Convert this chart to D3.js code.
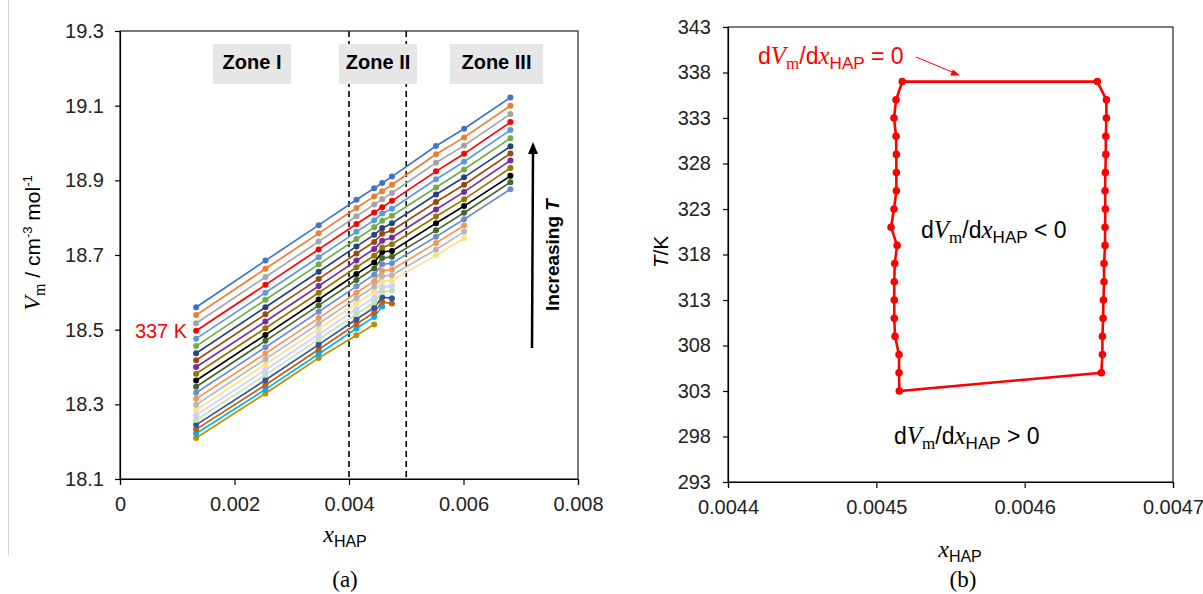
<!DOCTYPE html>
<html>
<head>
<meta charset="utf-8">
<script src="https://cdn.jsdelivr.net/npm/d3@7"></script>
<style>
body { margin: 0; background: #fff; }
svg { display: block; }
</style>
</head>
<body>
<script>
"use strict";

// ---- panel (a): molar volume vs x_HAP, one series per temperature ----
const xHap = [0.00133, 0.00254, 0.00347, 0.00413, 0.00444, 0.00458, 0.00475, 0.00552, 0.00601, 0.00682];
const temps = [343, 341, 339, 337, 335, 333, 331, 329, 327, 325, 323, 321, 319, 317, 315, 313, 311, 309, 307, 305, 303, 301];
const vm = [
  [18.560, 18.685, 18.780, 18.848, 18.879, 18.893, 18.910, 18.992, 19.038, 19.122],
  [18.539, 18.663, 18.758, 18.826, 18.857, 18.871, 18.888, 18.970, 19.015, 19.100],
  [18.517, 18.641, 18.736, 18.804, 18.835, 18.849, 18.866, 18.947, 18.993, 19.078],
  [18.497, 18.620, 18.715, 18.783, 18.814, 18.828, 18.845, 18.924, 18.971, 19.056],
  [18.476, 18.599, 18.694, 18.762, 18.793, 18.811, 18.824, 18.903, 18.950, 19.035],
  [18.456, 18.580, 18.675, 18.743, 18.774, 18.792, 18.805, 18.881, 18.929, 19.013],
  [18.437, 18.560, 18.655, 18.723, 18.754, 18.772, 18.785, 18.862, 18.908, 18.991],
  [18.418, 18.541, 18.636, 18.704, 18.735, 18.757, 18.766, 18.842, 18.888, 18.972],
  [18.400, 18.522, 18.617, 18.685, 18.716, 18.738, 18.747, 18.822, 18.869, 18.953],
  [18.382, 18.504, 18.599, 18.667, 18.698, 18.720, 18.729, 18.803, 18.849, 18.933],
  [18.364, 18.486, 18.581, 18.649, 18.680, 18.708, 18.711, 18.785, 18.831, 18.912],
  [18.347, 18.470, 18.565, 18.633, 18.664, 18.692, 18.695, 18.766, 18.813, 18.895],
  [18.331, 18.453, 18.548, 18.616, 18.647, 18.675, 18.678, 18.749, 18.796, 18.876],
  [18.315, 18.436, 18.531, 18.599, 18.630, 18.658, 18.661, 18.732, 18.779, null],
  [18.299, 18.421, 18.516, 18.584, 18.615, 18.643, 18.646, 18.715, 18.762, null],
  [18.285, 18.407, 18.502, 18.570, 18.601, 18.629, 18.632, 18.699, 18.745, null],
  [18.271, 18.392, 18.487, 18.555, 18.586, 18.614, 18.617, null, null, null],
  [18.258, 18.379, 18.474, 18.542, 18.573, 18.601, 18.604, null, null, null],
  [18.245, 18.365, 18.460, 18.528, 18.559, 18.587, 18.584, null, null, null],
  [18.233, 18.352, 18.447, 18.515, 18.546, 18.574, 18.570, null, null, null],
  [18.222, 18.340, 18.435, 18.503, 18.534, 18.562, null, null, null, null],
  [18.210, 18.329, 18.424, 18.485, 18.514, null, null, null, null, null]
];
const seriesColors = ["#4472C4", "#ED7D31", "#A5A5A5", "#FF0000", "#5B9BD5", "#70AD47", "#264478", "#9E480E",
  "#7030A0", "#997300", "#000000", "#43682B", "#698ED0", "#F1975A", "#B7B7B7", "#FFE08A",
  "#CFCFFF", "#C5E0B4", "#2F5597", "#C55A11", "#00B0F0", "#BF9000"];
const zoneNames = ["Zone I", "Zone II", "Zone III"];
const zoneEdges = [0.004, 0.005];
const ticksAx = [0, 0.002, 0.004, 0.006, 0.008];
const ticksAy = [18.1, 18.3, 18.5, 18.7, 18.9, 19.1, 19.3];
const labelledTemp = 337;

// ---- panel (b): where dVm/dx_HAP = 0 ----
const lowT = [303, 305, 307, 309, 311, 313, 315, 317, 319, 321, 323, 325, 327, 329, 331, 333, 335, 337];
const lowX = [0.0045155, 0.0045153, 0.0045153, 0.0045126, 0.0045121, 0.0045121, 0.0045121, 0.0045124, 0.0045140,
  0.0045099, 0.0045119, 0.0045135, 0.0045135, 0.0045135, 0.0045133, 0.0045119, 0.0045133, 0.0045175];
const highT = [337, 335, 333, 331, 329, 327, 325, 323, 321, 319, 317, 315, 313, 311, 309, 307, 305];
const highX = [0.0046490, 0.0046551, 0.0046551, 0.0046547, 0.0046547, 0.0046544, 0.0046542, 0.0046544, 0.0046542,
  0.0046542, 0.0046535, 0.0046535, 0.0046531, 0.0046529, 0.0046524, 0.0046524, 0.0046517];
const ticksBx = [0.0044, 0.0045, 0.0046, 0.0047];
const ticksBy = [293, 298, 303, 308, 313, 318, 323, 328, 333, 338, 343];

const sans = "'Liberation Sans', Arial, sans-serif";
const serif = "'Liberation Serif', 'Times New Roman', serif";

const svg = d3.select("body").append("svg").attr("width", 1203).attr("height", 594);

// text made of pieces (italic symbols, subscripts, superscripts)
function rich(parent, x, y, parts, anchor, color) {
  const t = parent.append("text").attr("x", x).attr("y", y)
    .attr("text-anchor", anchor || "start").attr("fill", color || "#000");
  let cur = 0;
  parts.forEach(p => {
    const shift = p.dy || 0;
    t.append("tspan").text(p.t)
      .attr("font-family", p.f === "serif" ? serif : sans)
      .attr("font-style", p.i ? "italic" : "normal")
      .attr("font-weight", p.b ? "bold" : "normal")
      .attr("font-size", p.s)
      .attr("dy", shift - cur);
    cur = shift;
  });
  return t;
}

function styleAxis(g) {
  g.attr("font-family", sans).attr("font-size", 20);
  g.select(".domain").attr("stroke", "#000").attr("stroke-width", 1.2);
  g.selectAll(".tick line").attr("stroke", "#000").attr("stroke-width", 1.2);
  g.selectAll(".tick text").attr("fill", "#222");
}

// faint frame line at the far left
svg.append("line").attr("x1", 8.5).attr("x2", 8.5).attr("y1", 0).attr("y2", 556)
  .attr("stroke", "#d4d4d4").attr("stroke-width", 1);

// ================= panel (a) =================
const xA = d3.scaleLinear().domain([0, 0.008]).range([120, 578]);
const yA = d3.scaleLinear().domain([18.1, 19.3]).range([479, 31]);
const gA = svg.append("g");

gA.selectAll("line.edge").data(zoneEdges).enter().append("line")
  .attr("x1", d => xA(d)).attr("x2", d => xA(d))
  .attr("y1", yA(19.3)).attr("y2", yA(18.1))
  .attr("stroke", "#000").attr("stroke-width", 1.6).attr("stroke-dasharray", "6,4");

const zoneLayout = [{cx: 0.002306, w: 78}, {cx: 0.004507, w: 78}, {cx: 0.006576, w: 93}];
zoneNames.forEach((name, i) => {
  const cx = xA(zoneLayout[i].cx);
  gA.append("rect").attr("x", cx - zoneLayout[i].w / 2).attr("y", 44)
    .attr("width", zoneLayout[i].w).attr("height", 40).attr("fill", "#e7e6e6");
  gA.append("text").attr("x", cx).attr("y", 69).attr("text-anchor", "middle")
    .attr("font-family", sans).attr("font-weight", "bold").attr("font-size", 20).text(name);
});

const lineA = d3.line().defined(d => d[1] != null).x(d => xA(d[0])).y(d => yA(d[1]));
for (let i = vm.length - 1; i >= 0; i--) {
  const pts = vm[i].map((v, j) => [xHap[j], v]);
  gA.append("path").attr("d", lineA(pts)).attr("fill", "none")
    .attr("stroke", seriesColors[i]).attr("stroke-width", 1.7);
  gA.selectAll(null).data(pts.filter(p => p[1] != null)).enter().append("circle")
    .attr("cx", d => xA(d[0])).attr("cy", d => yA(d[1])).attr("r", 3)
    .attr("fill", seriesColors[i]);
}

const iLab = temps.indexOf(labelledTemp);
gA.append("text").attr("x", xA(xHap[0]) - 9).attr("y", yA(vm[iLab][0]) + 7)
  .attr("text-anchor", "end").attr("font-family", sans).attr("font-size", 20)
  .attr("fill", "#ff0000").text(labelledTemp + " K");

// increasing-T arrow
gA.append("line").attr("x1", 532).attr("y1", 348).attr("x2", 533).attr("y2", 152)
  .attr("stroke", "#000").attr("stroke-width", 2.5);
gA.append("path").attr("d", "M533,142 L528,154 L538,154 Z").attr("fill", "#000");
const incT = rich(gA, 0, 0, [
  {t: "Increasing ", s: 19, b: true},
  {t: "T", s: 19, b: true, i: true}
], "middle");
incT.attr("transform", "translate(559,255) rotate(-90)");

gA.append("rect").attr("x", xA(0)).attr("y", yA(19.3))
  .attr("width", xA(0.008) - xA(0)).attr("height", yA(18.1) - yA(19.3))
  .attr("fill", "none").attr("stroke", "#222").attr("stroke-width", 1.2);

gA.append("g").attr("transform", `translate(0,${yA(18.1)})`)
  .call(d3.axisBottom(xA).tickValues(ticksAx).tickSizeOuter(0).tickSize(6).tickPadding(12)
    .tickFormat(d => d === 0 ? "0" : d3.format(".3f")(d)))
  .call(styleAxis);
gA.append("g").attr("transform", `translate(${xA(0)},0)`)
  .call(d3.axisLeft(yA).tickValues(ticksAy).tickSizeOuter(0).tickSize(5).tickPadding(11)
    .tickFormat(d3.format(".1f")))
  .call(styleAxis);

rich(gA, 345, 542, [
  {t: "x", f: "serif", i: true, s: 24},
  {t: "HAP", s: 16, dy: 5}
], "middle");

const yLabA = rich(gA, 0, 0, [
  {t: "V", f: "serif", i: true, s: 24},
  {t: "m", f: "serif", s: 16, dy: 5},
  {t: " / cm", s: 21},
  {t: "-3", s: 13, dy: -8},
  {t: " mol", s: 21},
  {t: "-1", s: 13, dy: -8}
], "middle");
yLabA.attr("transform", "translate(40,243) rotate(-90)");

svg.append("text").attr("x", 345).attr("y", 587).attr("text-anchor", "middle")
  .attr("font-family", serif).attr("font-size", 23).text("(a)");

// ================= panel (b) =================
const xB = d3.scaleLinear().domain([0.0044, 0.0047]).range([728, 1173]);
const yB = d3.scaleLinear().domain([293, 343]).range([482, 27]);
const gB = svg.append("g");

gB.append("rect").attr("x", xB(0.0044)).attr("y", yB(343))
  .attr("width", xB(0.0047) - xB(0.0044)).attr("height", yB(293) - yB(343))
  .attr("fill", "none").attr("stroke", "#222").attr("stroke-width", 1.2);

const boundary = lowT.map((t, i) => [lowX[i], t]).concat(highT.map((t, i) => [highX[i], t]));
gB.append("path")
  .attr("d", d3.line().x(d => xB(d[0])).y(d => yB(d[1])).curve(d3.curveLinearClosed)(boundary))
  .attr("fill", "none").attr("stroke", "#ff0000").attr("stroke-width", 2.6);
gB.selectAll("circle").data(boundary).enter().append("circle")
  .attr("cx", d => xB(d[0])).attr("cy", d => yB(d[1])).attr("r", 3.8).attr("fill", "#ff0000");

gB.append("g").attr("transform", `translate(0,${yB(293)})`)
  .call(d3.axisBottom(xB).tickValues(ticksBx).tickSizeOuter(0).tickSize(6).tickPadding(12)
    .tickFormat(d3.format(".4f")))
  .call(styleAxis);
gB.append("g").attr("transform", `translate(${xB(0.0044)},0)`)
  .call(d3.axisLeft(yB).tickValues(ticksBy).tickSizeOuter(0).tickSize(5).tickPadding(12)
    .tickFormat(d3.format("d")))
  .call(styleAxis);

function slopeText(x, y, rel, color) {
  return rich(gB, x, y, [
    {t: "d", s: 23},
    {t: "V", f: "serif", i: true, s: 25},
    {t: "m", f: "serif", s: 17, dy: 5},
    {t: "/d", s: 23},
    {t: "x", f: "serif", i: true, s: 25},
    {t: "HAP", s: 17, dy: 5},
    {t: " " + rel + " 0", s: 23}
  ], "start", color);
}
slopeText(758, 64, "=", "#ff0000");
slopeText(921, 238, "<", "#000");
slopeText(894, 444, ">", "#000");

gB.append("line").attr("x1", 916).attr("y1", 57).attr("x2", 952).attr("y2", 72)
  .attr("stroke", "#ff0000").attr("stroke-width", 1);
gB.append("path").attr("d", "M960,75.5 L950,75.6 L953,69.5 Z").attr("fill", "#ff0000");

rich(gB, 960, 557, [
  {t: "x", f: "serif", i: true, s: 24},
  {t: "HAP", s: 16, dy: 5}
], "middle");

const yLabB = rich(gB, 0, 0, [
  {t: "T", s: 21, i: true},
  {t: "/K", s: 21}
], "middle");
yLabB.attr("transform", "translate(668,252) rotate(-90)");

svg.append("text").attr("x", 963).attr("y", 587).attr("text-anchor", "middle")
  .attr("font-family", serif).attr("font-size", 23).text("(b)");
</script>
</body>
</html>
